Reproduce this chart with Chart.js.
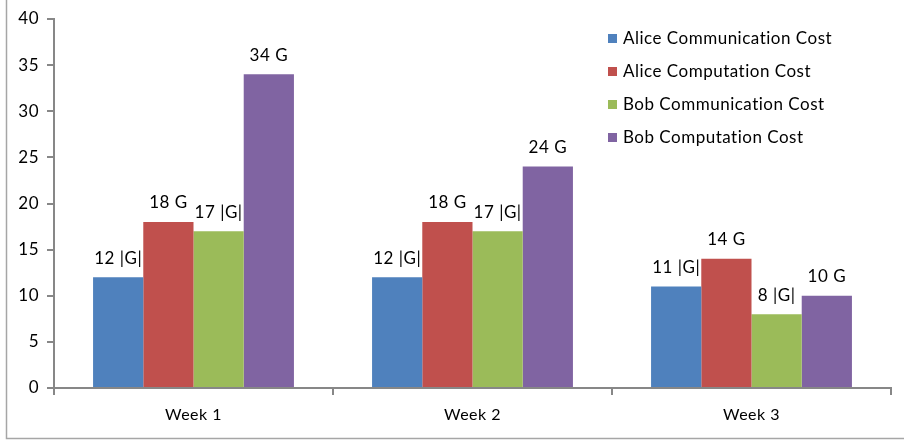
<!DOCTYPE html>
<html>
<head>
<meta charset="utf-8">
<style>
  html, body { margin: 0; padding: 0; background: #ffffff; }
  #wrap { width: 904px; height: 442px; position: relative; }
</style>
<script src="https://cdn.jsdelivr.net/npm/chart.js@4.4.1/dist/chart.umd.min.js"></script>
</head>
<body>
<div id="wrap"><canvas id="c" width="904" height="442"></canvas></div>
<script>
// Weekly cost figures
const weeks = ['Week 1', 'Week 2', 'Week 3'];
const seriesNames = ['Alice Communication Cost', 'Alice Computation Cost', 'Bob Communication Cost', 'Bob Computation Cost'];
const aliceComm = [12, 12, 11];
const aliceComp = [18, 18, 14];
const bobComm = [17, 17, 8];
const bobComp = [34, 24, 10];
const aliceCommLabels = ['12 |G|', '12 |G|', '11 |G|'];
const aliceCompLabels = ['18 G', '18 G', '14 G'];
const bobCommLabels = ['17 |G|', '17 |G|', '8 |G|'];
const bobCompLabels = ['34 G', '24 G', '10 G'];
const yTicks = [0, 5, 10, 15, 20, 25, 30, 35, 40];

const colors = ['#4F81BD', '#C0504D', '#9BBB59', '#8064A2'];
const FONT = 'Lato, "Open Sans", sans-serif';
const AXIS = '#878787';
const SPACING = '0.5px';

const values = [aliceComm, aliceComp, bobComm, bobComp];
const valueLabels = [aliceCommLabels, aliceCompLabels, bobCommLabels, bobCompLabels];

// Slightly open letter spacing for all chart text
const spacing = {
  id: 'spacing',
  beforeDraw(chart) { chart.ctx.letterSpacing = SPACING; }
};

// Text above each bar
const barLabels = {
  id: 'barLabels',
  afterDatasetsDraw(chart) {
    const ctx = chart.ctx;
    ctx.save();
    ctx.letterSpacing = SPACING;
    ctx.font = '17px ' + FONT;
    ctx.fillStyle = '#000';
    ctx.textAlign = 'center';
    ctx.textBaseline = 'middle';
    chart.data.datasets.forEach((ds, i) => {
      chart.getDatasetMeta(i).data.forEach((bar, j) => {
        ctx.fillText(ds.valueText[j], bar.x, bar.y - 19);
      });
    });
    ctx.restore();
  }
};

// Legend placed inside the plot, top right
const innerLegend = {
  id: 'innerLegend',
  afterDraw(chart) {
    const ctx = chart.ctx;
    ctx.save();
    ctx.letterSpacing = SPACING;
    ctx.font = '17px ' + FONT;
    ctx.textAlign = 'left';
    ctx.textBaseline = 'middle';
    chart.data.datasets.forEach((ds, i) => {
      const y = 38 + i * 33;
      ctx.fillStyle = ds.backgroundColor;
      ctx.fillRect(608, y - 4, 9, 9);
      ctx.fillStyle = '#000';
      ctx.fillText(ds.label, 623, y + 1);
    });
    ctx.restore();
  }
};

// Frame lines on the left and bottom edges
const frame = {
  id: 'frame',
  afterDraw(chart) {
    const ctx = chart.ctx;
    ctx.save();
    ctx.strokeStyle = '#a6a6a6';
    ctx.lineWidth = 1.5;
    ctx.beginPath();
    ctx.moveTo(6.5, 0);
    ctx.lineTo(6.5, 438.5);
    ctx.lineTo(904, 438.5);
    ctx.stroke();
    ctx.restore();
  }
};

new Chart(document.getElementById('c'), {
  type: 'bar',
  data: {
    labels: weeks,
    datasets: seriesNames.map((name, i) => ({
      label: name,
      data: values[i],
      valueText: valueLabels[i],
      backgroundColor: colors[i],
      borderWidth: 0,
      categoryPercentage: 0.72,
      barPercentage: 1.0
    }))
  },
  options: {
    responsive: false,
    animation: false,
    layout: { padding: { top: 19, right: 13, left: 0, bottom: 0 } },
    plugins: {
      legend: { display: false },
      tooltip: { enabled: false }
    },
    scales: {
      x: {
        offset: true,
        afterFit(s) { s.height = 54; },
        border: { display: true, color: AXIS, width: 2 },
        grid: {
          offset: true,
          drawOnChartArea: false,
          drawTicks: true,
          tickLength: 7,
          color: AXIS,
          lineWidth: 2
        },
        ticks: { color: '#000', font: { family: FONT, size: 16 }, padding: 10 }
      },
      y: {
        min: 0,
        max: 40,
        afterFit(s) { s.width = 54; },
        afterBuildTicks(s) { s.ticks = yTicks.map(v => ({ value: v })); },
        border: { display: true, color: AXIS, width: 2 },
        grid: {
          drawOnChartArea: false,
          drawTicks: true,
          tickLength: 7,
          color: AXIS,
          lineWidth: 2
        },
        ticks: { color: '#000', font: { family: FONT, size: 17 }, padding: 8 }
      }
    }
  },
  plugins: [spacing, barLabels, innerLegend, frame]
});
</script>
</body>
</html>
